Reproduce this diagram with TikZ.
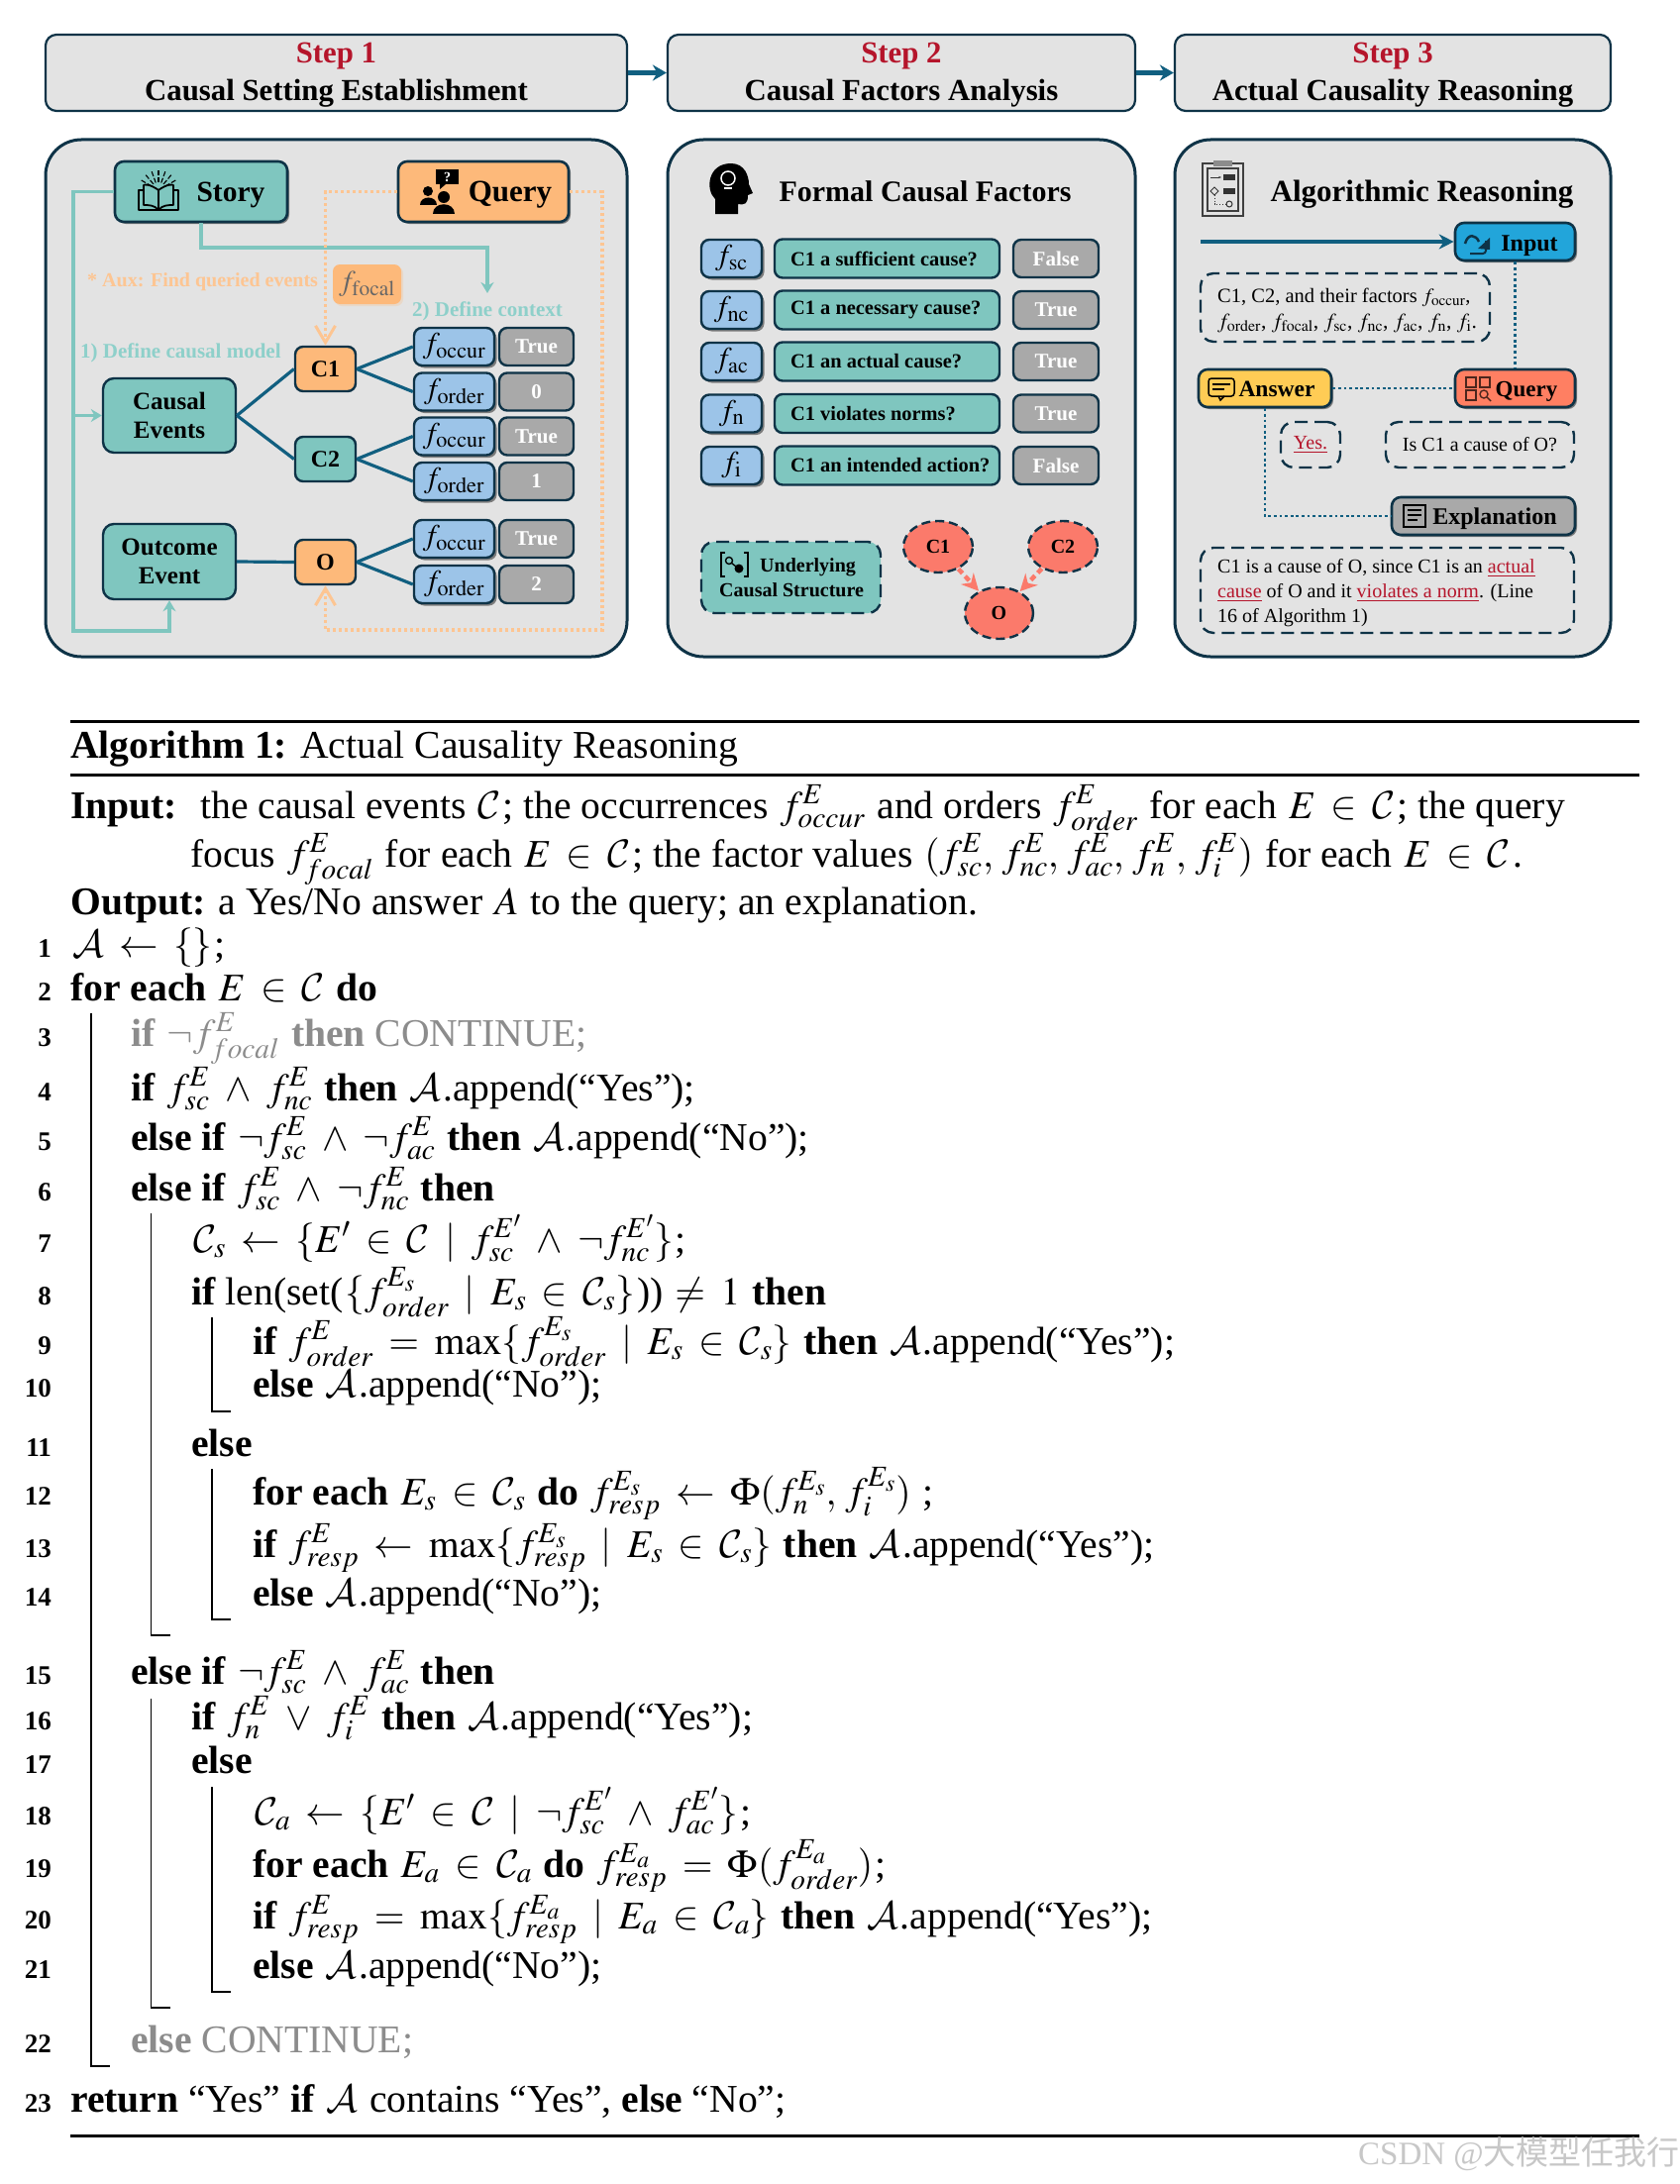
\documentclass[tikz,border=0pt]{standalone}
\usepackage{fix-cm}
\usepackage{amsmath}
\usepackage{mathptmx}
\usepackage[no-math]{fontspec}
\setmainfont{Liberation Serif}
\newfontfamily\cjkfont{Noto Sans CJK SC}
\usetikzlibrary{arrows.meta,shapes.geometric,shadows,positioning}
\DeclareMathAlphabet{\mathcal}{OMS}{cmsy}{m}{n}

\definecolor{panelgray}{HTML}{E3E3E3}
\definecolor{darkline}{HTML}{0E3347}
\definecolor{flowblue}{HTML}{115F80}
\definecolor{tealfill}{HTML}{7FC6BF}
\definecolor{tealtext}{HTML}{8ED0CA}
\definecolor{orangefill}{HTML}{FDB97A}
\definecolor{orangetext}{HTML}{FDC592}
\definecolor{bluefill}{HTML}{9CC4E8}
\definecolor{valgray}{HTML}{A9A9A9}
\definecolor{inputblue}{HTML}{22A5DA}
\definecolor{answeryellow}{HTML}{FFCC55}
\definecolor{querysalmon}{HTML}{FF7F62}
\definecolor{nodesalmon}{HTML}{FB7A6B}
\definecolor{stepred}{HTML}{B5152B}

\newcommand{\fsize}[1]{\fontsize{#1}{#1}\selectfont}
\newcommand{\algfont}{\fsize{39.6}\medmuskip=7mu\thickmuskip=7mu\thinmuskip=4mu\mathsurround=2pt}
\newcommand{\fval}[2]{f^{#1}_{#2}}
\newcommand{\cA}{\mathcal{A}}
\newcommand{\cC}{\mathcal{C}}
\newcommand{\redul}[1]{\textcolor{stepred}{\underline{#1}}}
% one numbered line of the algorithm: number, x, baseline y, text
\newcommand{\algline}[4]{%
  \node[algtext] (line#1) at (#2,-#3) {#4};
  \node[algnum] (num#1) at (52,-#3) {#1};
}

\tikzset{
  stepbox/.style={draw=darkline, line width=2.2pt, fill=panelgray, rounded corners=11pt, minimum height=77pt, inner sep=0pt},
  panelbox/.style={draw=darkline, line width=3pt, fill=panelgray, rounded corners=36pt, minimum height=522pt, inner sep=0pt},
  steptitle/.style={anchor=base, inner sep=0pt, font=\fsize{30.8}\bfseries},
  headbox/.style={draw=darkline, line width=2.6pt, rounded corners=9pt, inner sep=0pt, drop shadow={shadow xshift=2pt, shadow yshift=-2pt, opacity=.45, fill=black}},
  plainbox/.style={draw=darkline, line width=2.4pt, rounded corners=8pt, inner sep=0pt},
  fbox/.style={plainbox, fill=bluefill, font=\fsize{30}, drop shadow={shadow xshift=2.5pt, shadow yshift=-2.5pt, opacity=.45, fill=black}},
  valbox/.style={plainbox, fill=valgray, text=white, font=\fsize{21}\bfseries},
  hint/.style={inner sep=0pt, font=\fsize{21}\bfseries},
  treeline/.style={flowblue, line width=3.2pt},
  tealline/.style={tealfill, line width=3.2pt},
  orangedot/.style={orangetext, line width=3.2pt, dash pattern=on 3pt off 3pt},
  bluedot/.style={flowblue, line width=2.8pt, dash pattern=on 2.8pt off 2.8pt},
  dashbox/.style={draw=darkline, line width=2.4pt, dash pattern=on 13pt off 7pt, rounded corners=13pt, inner sep=0pt},
  algtext/.style={anchor=base west, inner sep=0pt, font=\algfont},
  algnum/.style={anchor=base east, inner sep=0pt, font=\fsize{27}\bfseries},
  blockline/.style={black, line width=1.3pt},
  algrule/.style={black, line width=3pt},
}

\begin{document}
\begin{tikzpicture}[x=1pt,y=1pt]
    \useasboundingbox (0,0) rectangle (1696,-2205);

    % Step headers
    \node[stepbox, minimum width=587pt] (step1) at (339.5,-73.5) {};
    \node[stepbox, minimum width=472pt] (step2) at (910,-73.5) {};
    \node[stepbox, minimum width=440pt] (step3) at (1406,-73.5) {};
    \node[steptitle, text=stepred] (step1a) at (339.5,-64) {Step 1};
    \node[steptitle, text=stepred] (step2a) at (910,-64) {Step 2};
    \node[steptitle, text=stepred] (step3a) at (1406,-64) {Step 3};
    \node[steptitle] (step1b) at (339.5,-102) {Causal Setting Establishment};
    \node[steptitle] (step2b) at (910,-102) {Causal Factors Analysis};
    \node[steptitle] (step3b) at (1406,-102) {Actual Causality Reasoning};
    \draw[flowblue, line width=4.5pt, -{Stealth[length=14pt,width=16pt]}] (step1) -- (step2);
    \draw[flowblue, line width=4.5pt, -{Stealth[length=14pt,width=16pt]}] (step2) -- (step3);

    % Panels
    \node[panelbox, minimum width=587pt] (panel1) at (339.5,-402) {};
    \node[panelbox, minimum width=472pt] (panel2) at (910,-402) {};
    \node[panelbox, minimum width=440pt] (panel3) at (1406,-402) {};

    % Step 1: connectors under the boxes
    \coordinate (storydown) at (203,-250);
    \coordinate (ctxend) at (492,-296);
    \coordinate (trunkend) at (74,-637);
    \coordinate (dotend) at (608,-636);
    \node[headbox, fill=tealfill, minimum width=174pt, minimum height=61pt] (story) at (203,-193.5) {};
    \node[headbox, fill=orangefill, minimum width=172pt, minimum height=61pt] (query) at (488,-193.5) {};
    \node[plainbox, fill=tealfill, rounded corners=11pt, minimum width=134pt, minimum height=75pt, font=\fsize{25}\bfseries, align=center] (causal) at (171,-419.5) {Causal\\[4pt]Events};
    \node[plainbox, fill=tealfill, rounded corners=11pt, minimum width=134pt, minimum height=76pt, font=\fsize{25}\bfseries, align=center] (outcome) at (171,-567) {Outcome\\[4pt]Event};
    \node[plainbox, fill=orangefill, minimum width=61pt, minimum height=45pt, font=\fsize{24}\bfseries] (c1) at (328.5,-372.5) {C1};
    \node[plainbox, fill=tealfill, minimum width=61pt, minimum height=45pt, font=\fsize{24}\bfseries] (c2) at (328.5,-463.5) {C2};
    \node[plainbox, fill=orangefill, minimum width=61pt, minimum height=45pt, font=\fsize{24}\bfseries] (o) at (328.5,-567.5) {O};
    \draw[tealline, -{Stealth[length=11pt,width=13pt]}] (story.west) -| (trunkend) -| (outcome.south);
    \draw[tealline, -{Stealth[length=11pt,width=13pt]}] (causal.west -| trunkend) -- (causal.west);
    \draw[tealline, -{Stealth[length=11pt,width=13pt]}] (story.south) |- (storydown) -| (ctxend);
    \draw[orangedot, -{Straight Barb[length=17pt,width=20pt,line width=3pt]}] (query.west) -| (c1.north);
    \draw[orangedot, -{Straight Barb[length=17pt,width=20pt,line width=3pt]}] (query.east) -| (dotend) -| (o.south);

    % Step 1: heads
    \node[anchor=base, inner sep=0pt, font=\fsize{29.5}\bfseries] (storylab) at (233,-203) {Story};
    \node[anchor=base, inner sep=0pt, font=\fsize{31}\bfseries] (querylab) at (515,-203) {Query};
    % book icon
    \draw[black, line width=1.8pt, line join=round] (160,-192) .. controls (152,-186) and (146,-186) .. (145,-187) -- (145,-207) .. controls (150,-207) and (156,-207) .. (160,-212) .. controls (164,-207) and (170,-207) .. (175,-207) -- (175,-187) .. controls (174,-186) and (168,-186) .. (160,-192) -- (160,-212);
    \draw[black, line width=1.8pt, line join=round] (145,-192) -- (140,-192) -- (140,-212) -- (180,-212) -- (180,-192) -- (175,-192);
    \foreach \ang in {30,50,70,90,110,130,150}
        \draw[black, line width=1.1pt, dash pattern=on 5pt off 2pt] (160,-192) ++(\ang:8pt) -- ++(\ang:13pt);
    % people icon
    \fill[black] (440,-171) rectangle (463,-186);
    \fill[black] (444,-186) -- (450,-186) -- (444,-191) -- cycle;
    \node[inner sep=0pt, text=white, font=\fsize{14}\bfseries] (qmark) at (451.5,-178.5) {?};
    \fill[black] (448,-199) circle (6pt);
    \fill[black] (437,-216) .. controls (437,-203) and (459,-203) .. (459,-216) -- cycle;
    \fill[black] (432,-193) circle (5pt);
    \fill[black] (424,-207) .. controls (424,-197) and (441,-197) .. (441,-207) -- cycle;

    % Step 1: context labels
    \node[hint, text=orangetext, anchor=west, font=\fsize{20}\bfseries] (auxlab) at (88,-285) {* Aux: Find queried events};
    \node[hint, text=tealtext, anchor=west] (ctxlab) at (416,-314) {2) Define context};
    \node[hint, text=tealtext, anchor=west] (modellab) at (81,-356) {1) Define causal model};
    \node[fill=orangefill, rounded corners=7pt, inner sep=0pt, minimum width=69pt, minimum height=40pt, text=black!60, font=\fsize{29}, drop shadow={shadow xshift=2pt, shadow yshift=-2pt, opacity=.25, fill=orangefill}] (focal) at (370.5,-287) {$f_{\mathrm{focal}}$};

    % Step 1: factor rows
    \foreach \rowname/\ypos/\flab/\val in {a/350/occur/True, b/395.5/order/0, c/440.5/occur/True, d/486/order/1, e/544/occur/True, g/590/order/2} {
        \node[fbox, minimum width=81pt, minimum height=38pt] (f\rowname) at (458.5,-\ypos) {$f_{\mathrm{\flab}}$};
        \node[valbox, minimum width=75pt, minimum height=38pt] (v\rowname) at (541.5,-\ypos) {\val};
    }
    \draw[treeline] (causal.east) -- (c1.west);
    \draw[treeline] (causal.east) -- (c2.west);
    \draw[treeline] (outcome.east) -- (o.west);
    \draw[treeline] (c1.east) -- (fa.west);
    \draw[treeline] (c1.east) -- (fb.west);
    \draw[treeline] (c2.east) -- (fc.west);
    \draw[treeline] (c2.east) -- (fd.west);
    \draw[treeline] (o.east) -- (fe.west);
    \draw[treeline] (o.east) -- (fg.west);

    % Step 2: title and head icon
    \node[anchor=base, inner sep=0pt, font=\fsize{30}\bfseries] (factorstitle) at (934,-203) {Formal Causal Factors};
    \fill[black] (722,-216) -- (722,-201) .. controls (712,-192) and (714,-165) .. (738,-165) .. controls (752,-165) and (756,-178) .. (756,-186) -- (760,-195) -- (755,-197) .. controls (755,-206) and (752,-207) .. (745,-206) -- (745,-216) -- cycle;
    \draw[white, line width=1.5pt] (735,-180) circle (7pt);
    \draw[white, line width=1.5pt] (731,-190) -- (739,-190);

    % Step 2: factor table
    \foreach \rowname/\ypos/\flab/\ques/\val in {sc/261/sc/C1 a sufficient cause?/False, nc/313/nc/C1 a necessary cause?/True, ac/365/ac/C1 an actual cause?/True, n/417.5/n/C1 violates norms?/True, i/470/i/C1 an intended action?/False} {
        \node[fbox, minimum width=61pt, minimum height=38pt] (factor\rowname) at (738.5,-\ypos) {$f_{\mathrm{\flab}}$};
        \node[plainbox, fill=tealfill, minimum width=227pt, minimum height=39pt] (ques\rowname) at (895.5,-\ypos) {};
        \node[anchor=west, inner sep=0pt, font=\fsize{20.4}\bfseries] (qtext\rowname) at (798,-\ypos) {\ques};
        \node[valbox, minimum width=86pt, minimum height=38pt] (val\rowname) at (1066,-\ypos) {\val};
    }

    % Step 2: underlying structure
    \node[dashbox, fill=tealfill, minimum width=181pt, minimum height=72pt] (underbox) at (798.5,-583) {};
    \node[anchor=base west, inner sep=0pt, font=\fsize{20}\bfseries] (underlab) at (767,-577) {Underlying};
    \node[anchor=base west, inner sep=0pt, font=\fsize{20}\bfseries] (structlab) at (726,-602) {Causal Structure};
    \draw[black, line width=1.6pt] (732,-558) -- (728,-558) -- (728,-582) -- (732,-582);
    \draw[black, line width=1.6pt] (751,-558) -- (755,-558) -- (755,-582) -- (751,-582);
    \draw[black, line width=1.4pt] (736,-566) circle (3.5pt);
    \fill[black] (746,-574) circle (4.5pt);
    \draw[black, line width=1.4pt] (738,-568) -- (743,-572);
    \node[ellipse, draw=darkline, line width=2.4pt, dash pattern=on 9pt off 5pt, fill=nodesalmon, minimum width=70pt, minimum height=52pt, inner sep=0pt, font=\fsize{20}\bfseries] (gc1) at (947,-552) {C1};
    \node[ellipse, draw=darkline, line width=2.4pt, dash pattern=on 9pt off 5pt, fill=nodesalmon, minimum width=70pt, minimum height=52pt, inner sep=0pt, font=\fsize{20}\bfseries] (gc2) at (1073,-552) {C2};
    \node[ellipse, draw=darkline, line width=2.4pt, dash pattern=on 9pt off 5pt, fill=nodesalmon, minimum width=69pt, minimum height=52pt, inner sep=0pt, font=\fsize{20}\bfseries] (go) at (1008.5,-619) {O};
    \draw[nodesalmon, line width=4.5pt, dash pattern=on 6pt off 4pt, -{Stealth[length=17pt,width=17pt]}] (gc1) -- (go);
    \draw[nodesalmon, line width=4.5pt, dash pattern=on 6pt off 4pt, -{Stealth[length=17pt,width=17pt]}] (gc2) -- (go);

    % Step 3: title and clipboard icon
    \node[anchor=base, inner sep=0pt, font=\fsize{31}\bfseries] (reasontitle) at (1435.5,-203) {Algorithmic Reasoning};
    \draw[black!75, line width=1.6pt] (1214,-165) rectangle (1255,-218);
    \draw[black!75, line width=1.4pt] (1219,-170) rectangle (1250,-213);
    \fill[black!45] (1225,-162) rectangle (1244,-168);
    \draw[black!80, line width=1pt, -{Stealth[length=3pt]}] (1222,-179) -- (1233,-179);
    \fill[black!80] (1235,-176) rectangle (1247,-182);
    \draw[black!80, line width=1pt] (1226,-189) -- (1230,-193) -- (1226,-197) -- (1222,-193) -- cycle;
    \fill[black!80] (1235,-190) rectangle (1247,-196);
    \draw[black!80, line width=.8pt, dotted] (1226,-197) -- (1226,-206) -- (1237,-206);
    \draw[black!80, line width=1pt] (1241,-206) circle (3pt);

    % Step 3: boxes
    \node[headbox, fill=inputblue, minimum width=121pt, minimum height=38pt] (input) at (1529.5,-244) {};
    \node[headbox, fill=answeryellow, minimum width=134pt, minimum height=38pt] (answer) at (1277,-392) {};
    \node[headbox, fill=querysalmon, minimum width=121pt, minimum height=38pt] (algquery) at (1529.5,-392) {};
    \node[headbox, fill=valgray, minimum width=185pt, minimum height=38pt] (expl) at (1497.5,-521) {};
    \node[anchor=base, inner sep=0pt, font=\fsize{24}\bfseries] (inputlab) at (1544,-253) {Input};
    \node[anchor=base, inner sep=0pt, font=\fsize{23.5}\bfseries] (answerlab) at (1289,-400) {Answer};
    \node[anchor=base, inner sep=0pt, font=\fsize{23}\bfseries] (querylab2) at (1541,-400) {Query};
    \node[anchor=base, inner sep=0pt, font=\fsize{24}\bfseries] (expllab) at (1509,-529) {Explanation};
    \coordinate (arrowstart) at (1212,-244);
    \draw[flowblue, line width=4.5pt, -{Stealth[length=15pt,width=15pt]}] (arrowstart) -- (input.west);
    \draw[bluedot] (input.south) -- (algquery.north);
    \draw[bluedot] (answer.east) -- (algquery.west);
    \draw[bluedot] (answer.south) |- (expl.west);

    % Step 3: icons
    \draw[darkline, line width=2pt, rounded corners=3pt] (1500,-243) -- (1500,-256) -- (1484,-256);
    \draw[darkline, line width=2.5pt] (1479,-246) .. controls (1482,-235) and (1490,-237) .. (1493,-244);
    \fill[darkline] (1504,-252) -- (1504,-240) -- (1492,-251) -- cycle;
    \draw[black, line width=1.5pt, rounded corners=3pt] (1220,-382) rectangle (1246,-400);
    \draw[black, line width=1.5pt] (1230,-400) -- (1232,-404) -- (1236,-400);
    \draw[black, line width=1.2pt] (1224,-388) -- (1242,-388);
    \draw[black, line width=1.2pt] (1224,-393) -- (1236,-393);
    \foreach \sx/\sy in {1480/381, 1494/381, 1480/394} {
        \draw[black!70!querysalmon, line width=1.4pt] (\sx,-\sy) rectangle ++(10,-10);
    }
    \draw[black!70!querysalmon, line width=1.4pt] (1498,-398) circle (4pt);
    \draw[black!70!querysalmon, line width=1.4pt] (1501,-401) -- (1505,-405);
    \draw[black, line width=1.5pt] (1417,-510) rectangle (1439,-532);
    \foreach \ly/\lx in {515/1435, 520/1435, 525/1431} {
        \draw[black, line width=1.2pt] (1421,-\ly) -- (\lx,-\ly);
    }

    % Step 3: dashed notes
    \node[dashbox, minimum width=292pt, minimum height=69pt] (factorsnote) at (1358,-310.5) {};
    \node[anchor=base west, inner sep=0pt, font=\fsize{20.5}] (fn1) at (1229,-305) {C1, C2, and their factors $f_{\mathrm{occur}}$,};
    \node[anchor=base west, inner sep=0pt, font=\fsize{21.5}] (fn2) at (1229,-331) {$f_{\mathrm{order}}$, $f_{\mathrm{focal}}$, $f_{\mathrm{sc}}$, $f_{\mathrm{nc}}$, $f_{\mathrm{ac}}$, $f_{\mathrm{n}}$, $f_{\mathrm{i}}$.};
    \node[dashbox, minimum width=60pt, minimum height=46pt, font=\fsize{20}] (yesnote) at (1323,-449) {\redul{Yes.}};
    \node[dashbox, minimum width=190pt, minimum height=46pt, font=\fsize{20}] (isnote) at (1494,-449) {Is C1 a cause of O?};
    \node[dashbox, minimum width=377pt, minimum height=86pt] (explnote) at (1400.5,-596) {};
    \node[anchor=base west, inner sep=0pt, font=\fsize{20}] (en1) at (1229,-578) {C1 is a cause of O, since C1 is an \redul{actual}};
    \node[anchor=base west, inner sep=0pt, font=\fsize{20}] (en2) at (1229,-603) {\redul{cause} of O and it \redul{violates a norm}. (Line};
    \node[anchor=base west, inner sep=0pt, font=\fsize{20}] (en3) at (1229,-628) {16 of Algorithm 1)};

    % Algorithm rules
    \coordinate (ruleL) at (71,-728);
    \coordinate (ruleR) at (1655,-728);
    \draw[algrule] (ruleL) -- (ruleR);
    \draw[algrule] (71,-782) -- (1655,-782);
    \draw[algrule] (71,-2156) -- (1655,-2156);

    % Algorithm head
    \node[algtext] (algtitle) at (71,-765) {\textbf{Algorithm 1:} Actual Causality Reasoning};
    \node[algtext] (inputa) at (71,-826) {\textbf{Input:}};
    \node[algtext] (inputb) at (202,-826) {the causal events $\cC$; the occurrences $\fval{E}{occur}$ and orders $\fval{E}{order}$ for each $E\in\cC$; the query};
    \node[algtext] (inputc) at (192,-875) {focus $\fval{E}{focal}$ for each $E\in\cC$; the factor values $(\fval{E}{sc},\fval{E}{nc},\fval{E}{ac},\fval{E}{n},\fval{E}{i})$ for each $E\in\cC$.};
    \node[algtext] (outputa) at (71,-923) {\textbf{Output:} a Yes/No answer $A$ to the query; an explanation.};

    % Algorithm lines
    \algline{1}{71}{966}{$\cA\leftarrow\{\}$;}
    \algline{2}{71}{1010}{\textbf{for each} $E\in\cC$ \textbf{do}}
    \algline{3}{132}{1056}{\color{black!45}\textbf{if} $\neg\fval{E}{focal}$ \textbf{then} CONTINUE;}
    \algline{4}{132}{1111}{\textbf{if} $\fval{E}{sc}\wedge\fval{E}{nc}$ \textbf{then} $\cA$.append(“Yes”);}
    \algline{5}{132}{1161}{\textbf{else if} $\neg\fval{E}{sc}\wedge\neg\fval{E}{ac}$ \textbf{then} $\cA$.append(“No”);}
    \algline{6}{132}{1212}{\textbf{else if} $\fval{E}{sc}\wedge\neg\fval{E}{nc}$ \textbf{then}}
    \algline{7}{193}{1264}{$\cC_s\leftarrow\{E'\in\cC\mid\fval{E'}{sc}\wedge\neg\fval{E'}{nc}\}$;}
    \algline{8}{193}{1317}{\textbf{if} len(set($\{\fval{E_s}{order}\mid E_s\in\cC_s\}$)) $\neq 1$ \textbf{then}}
    \algline{9}{255}{1367}{\textbf{if} $\fval{E}{order}=\max\{\fval{E_s}{order}\mid E_s\in\cC_s\}$ \textbf{then} $\cA$.append(“Yes”);}
    \algline{10}{255}{1410}{\textbf{else} $\cA$.append(“No”);}
    \algline{11}{193}{1470}{\textbf{else}}
    \algline{12}{255}{1519}{\textbf{for each} $E_s\in\cC_s$ \textbf{do} $\fval{E_s}{resp}\leftarrow\Phi(\fval{E_s}{n},\fval{E_s}{i})$ ;}
    \algline{13}{255}{1572}{\textbf{if} $\fval{E}{resp}\leftarrow\max\{\fval{E_s}{resp}\mid E_s\in\cC_s\}$ \textbf{then} $\cA$.append(“Yes”);}
    \algline{14}{255}{1621}{\textbf{else} $\cA$.append(“No”);}
    \algline{15}{132}{1700}{\textbf{else if} $\neg\fval{E}{sc}\wedge\fval{E}{ac}$ \textbf{then}}
    \algline{16}{193}{1746}{\textbf{if} $\fval{E}{n}\vee\fval{E}{i}$ \textbf{then} $\cA$.append(“Yes”);}
    \algline{17}{193}{1790}{\textbf{else}}
    \algline{18}{255}{1842}{$\cC_a\leftarrow\{E'\in\cC\mid\neg\fval{E'}{sc}\wedge\fval{E'}{ac}\}$;}
    \algline{19}{255}{1895}{\textbf{for each} $E_a\in\cC_a$ \textbf{do} $\fval{E_a}{resp}=\Phi(\fval{E_a}{order})$;}
    \algline{20}{255}{1947}{\textbf{if} $\fval{E}{resp}=\max\{\fval{E_a}{resp}\mid E_a\in\cC_a\}$ \textbf{then} $\cA$.append(“Yes”);}
    \algline{21}{255}{1997}{\textbf{else} $\cA$.append(“No”);}
    \algline{22}{132}{2072}{\color{black!45}\textbf{else} CONTINUE;}
    \algline{23}{71}{2132}{\textbf{return} “Yes” \textbf{if} $\cA$ contains “Yes”, \textbf{else} “No”;}

    % Algorithm block marks: x, top, bottom
    \foreach \bx/\btop/\bbot in {92/1023/2086, 152.5/1225/1651, 152.5/1715/2027, 214/1330/1425, 214/1483/1635, 214/1804/2011} {
        \draw[blockline] (\bx,-\btop) -- (\bx,-\bbot) -- ++(19,0);
    }

    % Watermark
    \node[anchor=east, inner sep=0pt, text=black!22, font=\fsize{33}] (mark) at (1696,-2175) {CSDN @{\cjkfont 大模型任我行}};
\end{tikzpicture}
\end{document}
